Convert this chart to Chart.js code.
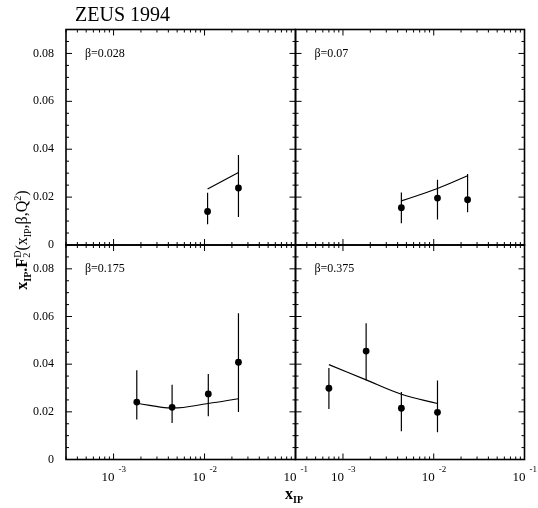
<!DOCTYPE html>
<html>
<head>
<meta charset="utf-8">
<script src="https://cdn.jsdelivr.net/npm/chart.js@4.4.0/dist/chart.umd.min.js"></script>
<style>
  body { margin: 0; background: #fff; }
  #wrap { position: relative; width: 538px; height: 508px; font-family: 'Liberation Serif', serif; color: #000; }
  #wrap canvas { position: absolute; left: 0; top: 0; }
  #title { position: absolute; left: 75px; top: 2px; font-size: 20px; line-height: 24px; }
  #ytitle { position: absolute; left: -43px; top: 229px; width: 130px; height: 22px; line-height: 22px;
            text-align: center; font-size: 16px; white-space: nowrap; transform: rotate(-90deg); }
  #ytitle b { font-weight: bold; }
  #ytitle sub, #xtitle sub { font-size: 10px; vertical-align: -4px; line-height: 0; }
  #ytitle sup { font-size: 10px; vertical-align: 6px; line-height: 0; }
  .ss { display: inline-block; vertical-align: -3px; font-size: 10px; line-height: 9px; text-align: left; }
  .ss span { display: block; }
  #xtitle { position: absolute; left: 285px; top: 486px; font-size: 16px; line-height: 16px; font-weight: bold; }
</style>
</head>
<body>
<div id="wrap">
  <canvas id="c0" width="538" height="508"></canvas>
  <canvas id="c1" width="538" height="508"></canvas>
  <canvas id="c2" width="538" height="508"></canvas>
  <canvas id="c3" width="538" height="508"></canvas>
  <div id="title">ZEUS 1994</div>
  <div id="ytitle"><b>x<sub>IP</sub>.F</b><span class="ss"><span>D</span><span>2</span></span>(x<sub>IP</sub>,β,Q<sup>2</sup>)</div>
  <div id="xtitle">x<sub>IP</sub></div>
</div>
<script>
// axis ticks
const xMajor = [1e-3, 1e-2, 1e-1];
const xMajorLabels = ['-3', '-2', '-1'];
const yMajor = [0, 0.02, 0.04, 0.06, 0.08];
const yMajorLabels = ['0', '0.02', '0.04', '0.06', '0.08'];
const betaLabels = ['β=0.028', 'β=0.07', 'β=0.175', 'β=0.375'];

// beta = 0.028
const xA = [0.0108, 0.0236];
const yA = [0.0140, 0.0238];
const loA = [0.0087, 0.0117];
const hiA = [0.0218, 0.0376];
const fitA = [0.0234, 0.0303];

// beta = 0.07
const xB = [0.0044, 0.0110, 0.0236];
const yB = [0.0156, 0.0196, 0.0189];
const loB = [0.0091, 0.0106, 0.0137];
const hiB = [0.0219, 0.0273, 0.0296];
const fitB = [0.0184, 0.0236, 0.0289];

// beta = 0.175
const xC = [0.0018, 0.0044, 0.0110, 0.0236];
const yC = [0.0241, 0.0219, 0.0275, 0.0408];
const loC = [0.0168, 0.0153, 0.0181, 0.0199];
const hiC = [0.0374, 0.0314, 0.0359, 0.0614];
const fitC = [0.0236, 0.0216, 0.0235, 0.0255];

// beta = 0.375
const xD = [0.0007, 0.0018, 0.0044, 0.0110];
const yD = [0.0299, 0.0455, 0.0215, 0.0198];
const loD = [0.0212, 0.0332, 0.0119, 0.0114];
const hiD = [0.0384, 0.0572, 0.0283, 0.0331];
const fitD = [0.0398, 0.0334, 0.0274, 0.0235];

const FONT = "'Liberation Serif', serif";

// frame, inward ticks, tick labels and beta label
const framePlugin = {
  id: 'frame',
  afterDraw(chart, args, o) {
    const { ctx, chartArea: a, scales: { x, y } } = chart;
    ctx.save();
    ctx.strokeStyle = '#000';
    ctx.lineWidth = 1;
    ctx.beginPath();
    // log x ticks
    for (let e = -4; e <= -1; e++) {
      for (let m = 1; m <= 9; m++) {
        const v = m * Math.pow(10, e);
        if (v < x.min * 0.999 || v > x.max * 1.001) continue;
        const px = x.getPixelForValue(v);
        const len = m === 1 ? 6 : 3;
        ctx.moveTo(px, a.bottom); ctx.lineTo(px, a.bottom - len);
        ctx.moveTo(px, a.top); ctx.lineTo(px, a.top + len);
      }
    }
    // linear y ticks
    for (let i = 0; i <= 18; i++) {
      const v = i * 0.005;
      const py = y.getPixelForValue(v);
      const len = i % 4 === 0 ? 6 : 3;
      ctx.moveTo(a.left, py); ctx.lineTo(a.left + len, py);
      ctx.moveTo(a.right, py); ctx.lineTo(a.right - len, py);
    }
    ctx.stroke();
    ctx.lineWidth = 1.6;
    ctx.strokeRect(a.left, a.top, a.right - a.left, a.bottom - a.top);

    ctx.fillStyle = '#000';
    if (o.yLabels) {
      ctx.font = '12px ' + FONT;
      ctx.textAlign = 'right';
      ctx.textBaseline = 'middle';
      yMajor.forEach((v, i) => ctx.fillText(yMajorLabels[i], a.left - 12, y.getPixelForValue(v)));
    }
    if (o.xLabels) {
      ctx.textBaseline = 'alphabetic';
      xMajor.forEach((v, i) => {
        const px = x.getPixelForValue(v);
        ctx.font = '13px ' + FONT;
        ctx.textAlign = 'right';
        ctx.fillText('10', px + 1, a.bottom + 21);
        ctx.font = '9px ' + FONT;
        ctx.textAlign = 'left';
        ctx.fillText(xMajorLabels[i], px + 5, a.bottom + 12);
      });
    }
    ctx.font = '12px ' + FONT;
    ctx.textAlign = 'left';
    ctx.textBaseline = 'middle';
    ctx.fillText(o.beta, a.left + 19, y.getPixelForValue(0.08));
    ctx.restore();
  }
};

function pts(xs, ys) {
  return xs.map((v, i) => ({ x: v, y: ys[i] }));
}
function errs(xs, lo, hi) {
  const out = [];
  xs.forEach((v, i) => {
    out.push({ x: v, y: lo[i] }, { x: v, y: hi[i] }, { x: v, y: null });
  });
  return out;
}

const W = 538, H = 508;
const colX = [66, 295.5, 524.5];
const rowY = [29.5, 245, 459.5];

const panels = [
  { id: 'c0', col: 0, row: 0, xs: xA, ys: yA, lo: loA, hi: hiA, fit: fitA, beta: betaLabels[0] },
  { id: 'c1', col: 1, row: 0, xs: xB, ys: yB, lo: loB, hi: hiB, fit: fitB, beta: betaLabels[1] },
  { id: 'c2', col: 0, row: 1, xs: xC, ys: yC, lo: loC, hi: hiC, fit: fitC, beta: betaLabels[2] },
  { id: 'c3', col: 1, row: 1, xs: xD, ys: yD, lo: loD, hi: hiD, fit: fitD, beta: betaLabels[3] }
];

panels.forEach(p => {
  new Chart(document.getElementById(p.id), {
    type: 'line',
    data: {
      datasets: [
        {
          data: pts(p.xs, p.fit),
          borderColor: '#000', borderWidth: 1.2, pointRadius: 0,
          tension: 0.4, fill: false
        },
        {
          data: errs(p.xs, p.lo, p.hi),
          borderColor: '#000', borderWidth: 1.2, pointRadius: 0,
          spanGaps: false, fill: false
        },
        {
          data: pts(p.xs, p.ys),
          showLine: false, pointRadius: 3.4, pointBackgroundColor: '#000',
          pointBorderWidth: 0, pointHoverRadius: 3.4
        }
      ]
    },
    options: {
      responsive: false,
      animation: false,
      events: [],
      layout: {
        autoPadding: false,
        padding: {
          left: colX[p.col], right: W - colX[p.col + 1],
          top: rowY[p.row], bottom: H - rowY[p.row + 1]
        }
      },
      scales: {
        x: { type: 'logarithmic', min: 3e-4, max: 0.1, display: false },
        y: { type: 'linear', min: 0, max: 0.09, display: false }
      },
      plugins: {
        legend: { display: false },
        tooltip: { enabled: false },
        frame: { beta: p.beta, yLabels: p.col === 0, xLabels: p.row === 1 }
      }
    },
    plugins: [framePlugin]
  });
});
</script>
</body>
</html>
